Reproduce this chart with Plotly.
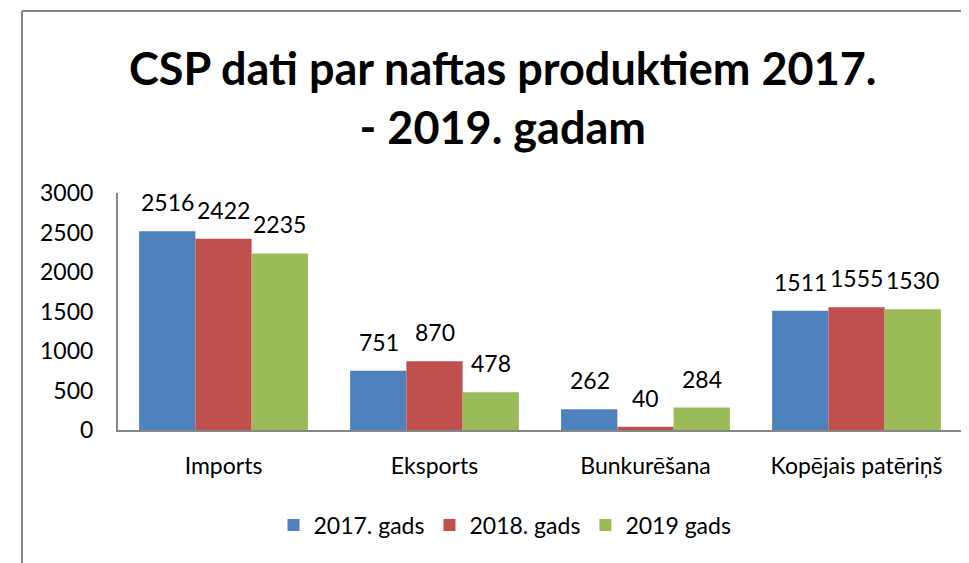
import plotly.graph_objects as go

categories = ["Imports", "Eksports", "Bunkurēšana", "Kopējais patēriņš"]
series_names = ["2017. gads", "2018. gads", "2019 gads"]
values_2017 = [2516, 751, 262, 1511]
values_2018 = [2422, 870, 40, 1555]
values_2019 = [2235, 478, 284, 1530]
y_ticks = [0, 500, 1000, 1500, 2000, 2500, 3000]
title_text = "CSP dati par naftas produktiem 2017.<br>- 2019. gadam"

colors = ["#4F81BD", "#C0504D", "#9BBB59"]
FONT = "Lato"
OFF = 8  # page body margin
W, H = 969 - OFF, 563 - OFF
L, R, T, B = 118 - OFF, 7, 193 - OFF, 563 - 430
pw = W - L - R
ph = H - T - B


def px_x(p):
    return (p - OFF - L) / pw


def px_y(p):
    return (H - B - (p - OFF)) / ph


fig = go.Figure()
all_values = [values_2017, values_2018, values_2019]
for name, vals, col in zip(series_names, all_values, colors):
    fig.add_trace(go.Bar(x=categories, y=vals, name=name, marker=dict(color=col, line=dict(width=0))))

annotations = []
for i, vals in enumerate(all_values):
    for c, v in zip(categories, vals):
        annotations.append(dict(x=c, y=v, xref="x", yref="y", text=str(v), showarrow=False,
                                xshift=(i - 1) * 56, yshift=13, yanchor="bottom",
                                font=dict(family=FONT, size=23, color="#000000")))
annotations.append(dict(x=px_x(503), y=px_y(97), xref="paper", yref="paper",
                        text="<b>" + title_text.replace("<br>", "</b><br><b>") + "</b>", showarrow=False,
                        xanchor="center", yanchor="middle",
                        font=dict(family=FONT, size=45, color="#000000")))

shapes = [
    dict(type="line", xref="paper", yref="paper", x0=px_x(22), x1=px_x(22),
         y0=px_y(11), y1=-1, line=dict(color="#868686", width=2)),
    dict(type="line", xref="paper", yref="paper", x0=px_x(22), x1=1.2,
         y0=px_y(11), y1=px_y(11), line=dict(color="#868686", width=2)),
]

fig.update_layout(
    width=W, height=H,
    margin=dict(l=L, r=R, t=T, b=B, autoexpand=False),
    paper_bgcolor="white", plot_bgcolor="white",
    barmode="group", bargap=0.2, bargroupgap=0,
    annotations=annotations, shapes=shapes,
    font=dict(family=FONT, size=23, color="#000000"),
    legend=dict(orientation="h", x=px_x(505), xanchor="center", y=px_y(525), yanchor="middle",
                font=dict(family=FONT, size=23), itemwidth=30, traceorder="normal"),
    xaxis=dict(showline=True, linecolor="#868686", linewidth=2, ticks="", showgrid=False,
               range=[-0.5, 3.5], ticklabelstandoff=14, tickfont=dict(family=FONT, size=23)),
    yaxis=dict(showline=True, linecolor="#868686", linewidth=2, ticks="", showgrid=False,
               range=[0, 3000], tickvals=y_ticks, ticklabelstandoff=18, zeroline=False,
               tickfont=dict(family=FONT, size=23)),
)

fig.write_html("out.html")
